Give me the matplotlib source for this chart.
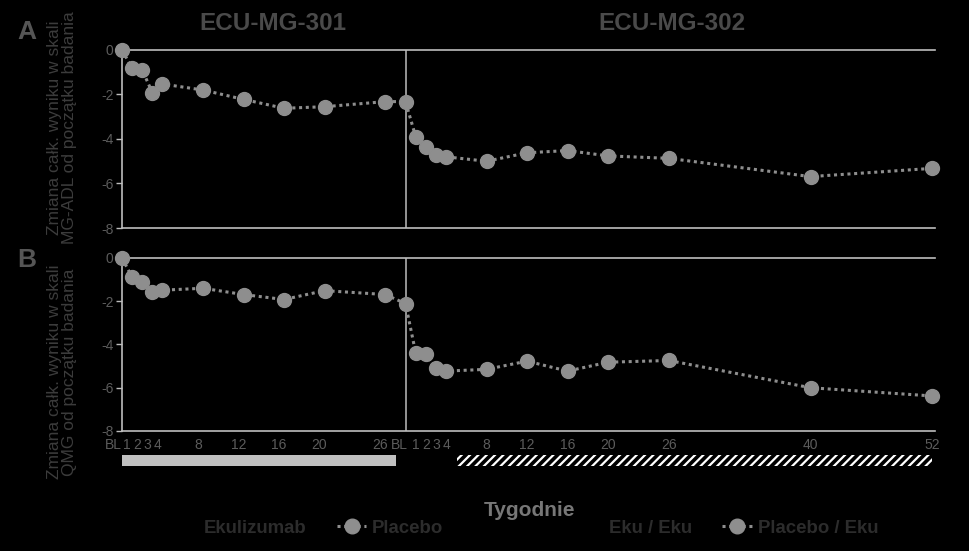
import matplotlib
matplotlib.use("Agg")
import matplotlib.pyplot as plt
from matplotlib import font_manager as fm
from matplotlib.lines import Line2D
from matplotlib.patches import Rectangle
import matplotlib.transforms as mtransforms

# ---------------- data ----------------
weeks_301 = [0, 1, 2, 3, 4, 8, 12, 16, 20, 26]
weeks_302 = [0, 1, 2, 3, 4, 8, 12, 16, 20, 26, 40, 52]
tick_labels_301 = ["BL", "1", "2", "3", "4", "8", "12", "16", "20", "26"]
tick_labels_302 = ["BL", "1", "2", "3", "4", "8", "12", "16", "20", "26", "40", "52"]
offset_302 = 28  # position of ECU-MG-302 baseline on the shared week axis

# MG-ADL change from baseline, placebo (ECU-MG-301) -> placebo/eku (ECU-MG-302)
adl_placebo_301 = [0, -0.82, -0.9, -1.92, -1.53, -1.8, -2.22, -2.62, -2.55, -2.32]
adl_placebo_302 = [-2.32, -3.89, -4.35, -4.7, -4.8, -5.0, -4.62, -4.52, -4.76, -4.87, -5.69, -5.32]
# QMG change from baseline
qmg_placebo_301 = [0, -0.89, -1.09, -1.58, -1.49, -1.4, -1.69, -1.92, -1.51, -1.69]
qmg_placebo_302 = [-2.11, -4.38, -4.46, -5.08, -5.23, -5.15, -4.77, -5.23, -4.82, -4.74, -6.0, -6.38]

yticks = [0, -2, -4, -6, -8]
titles = ["ECU-MG-301", "ECU-MG-302"]
ylabels = ["Zmiana całk. wyniku w skali\nMG-ADL od początku badania",
           "Zmiana całk. wyniku w skali\nQMG od początku badania"]
legend_left = ["Ekulizumab", "Placebo"]
legend_right = ["Eku / Eku", "Placebo / Eku"]

# ---------------- fonts ----------------
def has_font(name):
    try:
        fm.findfont(name, fallback_to_default=False)
        return True
    except Exception:
        return False

base = "Liberation Sans" if has_font("Liberation Sans") else "DejaVu Sans"
plt.rcParams["font.family"] = [base, "DejaVu Sans"]
plt.rcParams["hatch.linewidth"] = 1.6

BG = "black"
AXC = "#bdbdbd"
GRAY = "#8e8e8e"
TICKC = "#5c5c5c"

x_all = weeks_301 + [offset_302 + w for w in weeks_302]
xt_labels = tick_labels_301 + tick_labels_302

fig = plt.figure(figsize=(9.69, 5.51), dpi=100, facecolor=BG)
axA = fig.add_axes([0.1259, 0.5862, 0.8391, 0.3231])
axB = fig.add_axes([0.1259, 0.2178, 0.8391, 0.3140])

line_kw = dict(color=GRAY, lw=2.2, linestyle=(0, (1, 1.2)), marker="o",
               markersize=10, markerfacecolor=GRAY, markeredgecolor=GRAY,
               clip_on=False, zorder=3)

for ax, s301, s302 in [(axA, adl_placebo_301, adl_placebo_302),
                       (axB, qmg_placebo_301, qmg_placebo_302)]:
    ax.set_facecolor(BG)
    ax.plot(x_all, s301 + s302, **line_kw)
    ax.set_xlim(0, 80.3)
    ax.set_ylim(-8, 0)
    ax.axvline(offset_302, color=AXC, lw=1.1, zorder=1)
    for side in ["top", "bottom", "left"]:
        ax.spines[side].set_color(AXC)
        ax.spines[side].set_linewidth(1.2)
    ax.spines["right"].set_visible(False)
    ax.set_yticks(yticks)
    ax.set_yticklabels([str(v) for v in yticks])
    ax.tick_params(axis="y", colors=AXC, labelcolor=TICKC, labelsize=10,
                   length=4, width=1, pad=2)
    ax.set_xticks(x_all)
    ax.tick_params(axis="x", length=0)

axA.set_xticklabels([])
axB.set_xticklabels(xt_labels, fontsize=10, color=TICKC)
axB.tick_params(axis="x", pad=5)

# nudge tick labels like the original (BL right-aligned, 301 labels slightly left)
n301 = len(weeks_301)
for i, lab in enumerate(axB.get_xticklabels()):
    txt = lab.get_text()
    if txt == "BL":
        lab.set_horizontalalignment("right")
        dx = 0 if i < n301 else 2
    else:
        dx = -5 if i < n301 else 0
    lab.set_transform(lab.get_transform() +
                      mtransforms.ScaledTranslation(dx / 100, 0, fig.dpi_scale_trans))

# treatment bars below panel B
trans = mtransforms.blended_transform_factory(axB.transData, axB.transAxes)
axB.add_patch(Rectangle((0, -0.2), 27.1, 0.06, transform=trans, clip_on=False,
                        facecolor="#c0c0c0", edgecolor="none"))
axB.add_patch(Rectangle((offset_302 + 5.07, -0.2), 80.0 - offset_302 - 5.07, 0.06,
                        transform=trans, clip_on=False, facecolor=BG,
                        edgecolor="white", hatch="////", lw=0))

# titles and panel letters
fig.text(273 / 969, 1 - 24 / 551, titles[0], ha="center", va="center",
         fontsize=17.5, fontweight="bold", color="#4a4a4a")
fig.text(672 / 969, 1 - 24 / 551, titles[1], ha="center", va="center",
         fontsize=17.5, fontweight="bold", color="#4a4a4a")
fig.text(27 / 969, 1 - 32 / 551, "A", ha="center", va="center",
         fontsize=19, fontweight="bold", color="#555555")
fig.text(27 / 969, 1 - 260 / 551, "B", ha="center", va="center",
         fontsize=19, fontweight="bold", color="#555555")

# y labels
fig.text(62 / 969, 1 - 128 / 551, ylabels[0], rotation=90, ha="center",
         va="center", fontsize=12.5, color="#3c3c3c", linespacing=0.95,
         multialignment="center")
fig.text(62 / 969, 1 - 372 / 551, ylabels[1], rotation=90, ha="center",
         va="center", fontsize=12.5, color="#3c3c3c", linespacing=0.95,
         multialignment="center")

# x label
fig.text(530 / 969, 1 - 511 / 551, "Tygodnie", ha="center", va="center",
         fontsize=15, fontweight="bold", color="#777777")

# legends
def handle(color):
    return Line2D([], [], color=color, lw=2.2, linestyle=(0, (1, 1.2)),
                  marker="o", markersize=10.5, markerfacecolor=color,
                  markeredgecolor=color)

leg_kw = dict(ncol=2, frameon=False, loc="center", handlelength=1.6,
              handletextpad=0.3, columnspacing=1.6, borderpad=0,
              prop={"family": base, "weight": "bold", "size": 13.4})
legL = fig.legend([handle("black"), handle(GRAY)], legend_left,
                  bbox_to_anchor=(306 / 969, 1 - 528 / 551), **leg_kw)
for t in legL.get_texts():
    t.set_color("#2c2c2c")
legR = fig.legend([handle("black"), handle(GRAY)], legend_right,
                  bbox_to_anchor=(726 / 969, 1 - 528 / 551), **leg_kw)
for t in legR.get_texts():
    t.set_color("#2c2c2c")

fig.savefig("out.png", dpi=100, facecolor=BG)
